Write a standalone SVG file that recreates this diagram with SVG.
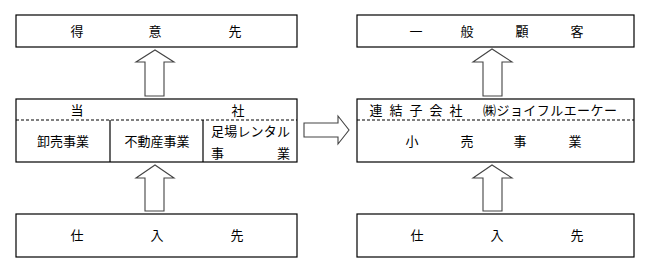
<svg xmlns="http://www.w3.org/2000/svg" width="649" height="272" viewBox="0 0 649 272">
<style>
.box{fill:#fff;stroke:#000;stroke-width:1.2}
.dash{stroke:#000;stroke-width:1;stroke-dasharray:3 2;fill:none}
.div{stroke:#000;stroke-width:1.2}
.arr{fill:#fff;stroke:#444;stroke-width:1.1;stroke-linejoin:miter}
text{font-family:"Noto Sans CJK JP","Noto Sans",sans-serif;font-size:13px;fill:#000}
.m{text-anchor:middle}
</style>
<rect width="649" height="272" fill="#fff"/>
<g id="connectors">
<polygon class="arr" points="145,96 145,62 136,62 155,50 174,62 164,62 164,96"/>
<polygon class="arr" points="145,211 145,178 136,178 155,165 174,178 164,178 164,211"/>
<polygon class="arr" points="483,96 483,62 473,62 492,49 512,62 502,62 502,96"/>
<polygon class="arr" points="483,211 483,178 473,178 492,165 512,178 502,178 502,211"/>
<polygon class="arr" points="304,123 338,123 338,116 349,130 338,144 338,137 304,137"/>
</g>
<g id="tokuisaki">
<rect class="box" x="16" y="15" width="281" height="32"/>
<text class="m" x="77" y="36">得</text><text class="m" x="155" y="36">意</text><text class="m" x="235" y="36">先</text>
</g>
<g id="tosha">
<rect class="box" x="16" y="99" width="281" height="63"/>
<line class="dash" x1="16" y1="120" x2="297" y2="120"/>
<line class="div" x1="110" y1="120" x2="110" y2="162"/>
<line class="div" x1="203" y1="120" x2="203" y2="162"/>
<text class="m" x="77" y="115">当</text><text class="m" x="238" y="115">社</text>
<text class="m" x="63" y="146">卸売事業</text>
<text class="m" x="157" y="146">不動産事業</text>
<text x="211" y="136" textLength="79">足場レンタル</text>
<text x="211" y="158">事</text><text x="277" y="158">業</text>
</g>
<g id="shiiresaki-left">
<rect class="box" x="16" y="214" width="281" height="43"/>
<text class="m" x="77" y="240">仕</text><text class="m" x="157" y="240">入</text><text class="m" x="237" y="240">先</text>
</g>
<g id="ippankokyaku">
<rect class="box" x="357" y="15" width="277" height="32"/>
<text class="m" x="416" y="36">一</text><text class="m" x="467" y="36">般</text><text class="m" x="522" y="36">顧</text><text class="m" x="577" y="36">客</text>
</g>
<g id="renketsu">
<rect class="box" x="357" y="99" width="277" height="63"/>
<line class="dash" x1="357" y1="120" x2="634" y2="120"/>
<text class="m" x="376" y="115">連</text><text class="m" x="396" y="115">結</text><text class="m" x="416" y="115">子</text><text class="m" x="436" y="115">会</text><text class="m" x="456" y="115">社</text>
<text x="483" y="115" textLength="134">㈱ジョイフルエーケー</text>
<text class="m" x="412" y="146">小</text><text class="m" x="467" y="146">売</text><text class="m" x="520" y="146">事</text><text class="m" x="575" y="146">業</text>
</g>
<g id="shiiresaki-right">
<rect class="box" x="357" y="214" width="277" height="43"/>
<text class="m" x="417" y="240">仕</text><text class="m" x="497" y="240">入</text><text class="m" x="577" y="240">先</text>
</g>
</svg>
